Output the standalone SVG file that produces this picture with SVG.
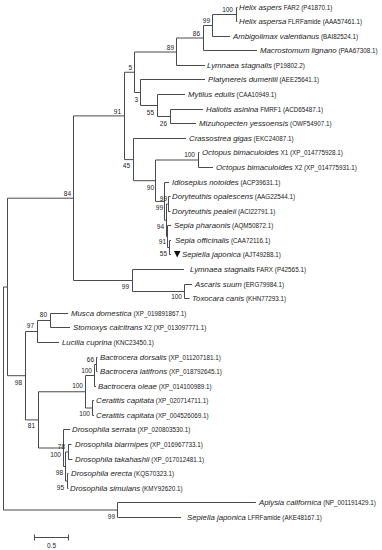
<svg xmlns="http://www.w3.org/2000/svg" width="382" height="550" viewBox="0 0 382 550">
<style>
.br{fill:none;stroke:#4a4a4a;stroke-width:1}
text{font-family:"Liberation Sans",Arial,sans-serif;fill:#222}
.sp{font-style:italic;font-size:7.8px}
.ac{font-size:6.3px;font-style:normal}
.bs{font-size:6.5px;text-anchor:end}
</style>
<rect width="382" height="550" fill="#fff"/>
<g id="connectors" class="br">
<path d="M3.5 287V510M3.5 287H7.5M7.5 198.2V375.7M7.5 198.2H73.5M73.5 115.9V280.5M73.5 115.9H124.5M124.5 72.25V159.6M124.5 72.25H134.5M134.5 52V92.5M134.5 52H176.5M176.5 38V65.5M176.5 38H203.5M203.5 25.5V50.5M203.5 25.5H212.5M212.5 14.5V36.5M212.5 14.5H236.5M236.5 7.5V21.5M236.5 7.5H237.5M236.5 21.5H237.5M212.5 36.5H230M203.5 50.5H257M176.5 65.5H205"/>
<path d="M134.5 92.5H140.5M140.5 79.5V105.5M140.5 79.5H205M140.5 105.5H157.5M157.5 94.5V116.5M157.5 94.5H185M157.5 116.5H170.5M170.5 109.5V123.5M170.5 109.5H203M170.5 123.5H196"/>
<path d="M124.5 159.6H133.5M133.5 138.5V180.7M133.5 138.5H186M133.5 180.7H155.5M155.5 160V201.4M155.5 160H198.5M198.5 152.5V167.5M198.5 152.5H199.5M198.5 167.5H213M155.5 201.4H164.5M164.5 182.5V220.25M164.5 182.5H169M164.5 220.25H166.5M166.5 204V236.5M166.5 204H168.5M168.5 196.5V211.5M168.5 196.5H170.5M168.5 211.5H170.5M166.5 236.5H167.5M167.5 225.5V247.5M167.5 225.5H171M167.5 247.5H169.5M169.5 240.5V254.5M169.5 240.5H171M169.5 254.5H171"/>
<path d="M73.5 280.5H132.5M132.5 269.5V291.5M132.5 269.5H184M132.5 291.5H184.5M184.5 284.5V298.5M184.5 284.5H192M184.5 298.5H189.5"/>
<path d="M7.5 375.7H25.5M25.5 331.5V419.9M25.5 331.5H37.5M37.5 320.5V342.5M37.5 320.5H50.5M50.5 313.5V327.5M50.5 313.5H68M50.5 327.5H70M37.5 342.5H59"/>
<path d="M25.5 419.9H38.5M38.5 391.75V448M38.5 391.75H85.5M85.5 375.5V408M85.5 375.5H94.5M94.5 364.5V386.5M94.5 364.5H96.5M96.5 357.5V371.5M96.5 357.5H97.5M96.5 371.5H97.5M94.5 386.5H96M85.5 408H92.5M92.5 400.5V415.5M92.5 400.5H94M92.5 415.5H94"/>
<path d="M38.5 448H63.5M63.5 429.5V466.5M63.5 429.5H70M63.5 466.5H65.5M65.5 452V481M65.5 452H68.5M68.5 444.5V459.5M68.5 444.5H71.5M68.5 459.5H72.5M65.5 481H67.5M67.5 473.5V488.5M67.5 473.5H68.5M67.5 488.5H68.5"/>
<path d="M3.5 510H117.5M117.5 502.5V517.5M117.5 502.5H256M117.5 517.5H181"/>
</g>
<g id="scale-bar">
<path class="br" d="M34 537.5H69M34.5 534.5V540.5M68.5 534.5V540.5"/>
<text x="51.5" y="548" font-size="6.5" text-anchor="middle">0.5</text>
</g>
<g id="leaf-01"><text x="239" y="10.3"><tspan class="sp">Helix aspers</tspan><tspan class="ac"> FAR2 (P41870.1)</tspan></text></g>
<g id="leaf-02"><text x="239" y="24.3"><tspan class="sp">Helix aspersa</tspan><tspan class="ac"> FLRFamide (AAA57461.1)</tspan></text></g>
<g id="leaf-03"><text x="233" y="39.3"><tspan class="sp">Ambigolimax valentianus</tspan><tspan class="ac"> (BAI82524.1)</tspan></text></g>
<g id="leaf-04"><text x="260" y="53.3"><tspan class="sp">Macrostomum lignano</tspan><tspan class="ac"> (PAA67308.1)</tspan></text></g>
<g id="leaf-05"><text x="207" y="68.3"><tspan class="sp">Lymnaea stagnalis</tspan><tspan class="ac"> (P19802.2)</tspan></text></g>
<g id="leaf-06"><text x="208" y="82.3"><tspan class="sp">Platynereis dumerilii</tspan><tspan class="ac"> (AEE25641.1)</tspan></text></g>
<g id="leaf-07"><text x="188" y="97.3"><tspan class="sp">Mytilus edulis</tspan><tspan class="ac"> (CAA10949.1)</tspan></text></g>
<g id="leaf-08"><text x="206" y="112.3"><tspan class="sp">Haliotis asinina</tspan><tspan class="ac"> FMRF1 (ACD65487.1)</tspan></text></g>
<g id="leaf-09"><text x="199" y="126.3"><tspan class="sp">Mizuhopecten yessoensis</tspan><tspan class="ac"> (OWF54907.1)</tspan></text></g>
<g id="leaf-10"><text x="189" y="141.3"><tspan class="sp">Crassostrea gigas</tspan><tspan class="ac"> (EKC24087.1)</tspan></text></g>
<g id="leaf-11"><text x="202" y="155.3"><tspan class="sp">Octopus bimaculoides</tspan><tspan class="ac"> X1 (XP_014775928.1)</tspan></text></g>
<g id="leaf-12"><text x="216" y="170.3"><tspan class="sp">Octopus bimaculoides</tspan><tspan class="ac"> X2 (XP_014775931.1)</tspan></text></g>
<g id="leaf-13"><text x="172" y="185.3"><tspan class="sp">Idiosepius notoides</tspan><tspan class="ac"> (ACP39631.1)</tspan></text></g>
<g id="leaf-14"><text x="172" y="199.3"><tspan class="sp">Doryteuthis opalescens</tspan><tspan class="ac"> (AAG22544.1)</tspan></text></g>
<g id="leaf-15"><text x="172" y="214.3"><tspan class="sp">Doryteuthis pealeii</tspan><tspan class="ac"> (ACI22791.1)</tspan></text></g>
<g id="leaf-16"><text x="174" y="228.3"><tspan class="sp">Sepia pharaonis</tspan><tspan class="ac"> (AQM50872.1)</tspan></text></g>
<g id="leaf-17"><text x="175" y="243.3"><tspan class="sp">Sepia officinalis</tspan><tspan class="ac"> (CAA72116.1)</tspan></text></g>
<g id="leaf-18"><path d="M174 251H180.5L177.2 257.5Z" fill="#111"/><text x="182" y="257.3"><tspan class="sp">Sepiella japonica</tspan><tspan class="ac"> (AJT49288.1)</tspan></text></g>
<g id="leaf-19"><text x="190" y="272.3"><tspan class="sp">Lymnaea stagnalis</tspan><tspan class="ac"> FARX (P42565.1)</tspan></text></g>
<g id="leaf-20"><text x="195" y="287.3"><tspan class="sp">Ascaris suum</tspan><tspan class="ac"> (ERG79984.1)</tspan></text></g>
<g id="leaf-21"><text x="192" y="301.3"><tspan class="sp">Toxocara canis</tspan><tspan class="ac"> (KHN77293.1)</tspan></text></g>
<g id="leaf-22"><text x="71" y="316.3"><tspan class="sp">Musca domestica</tspan><tspan class="ac"> (XP_019891867.1)</tspan></text></g>
<g id="leaf-23"><text x="73" y="330.3"><tspan class="sp">Stomoxys calcitrans</tspan><tspan class="ac"> X2 (XP_013097771.1)</tspan></text></g>
<g id="leaf-24"><text x="62" y="345.3"><tspan class="sp">Lucilia cuprina</tspan><tspan class="ac"> (KNC23450.1)</tspan></text></g>
<g id="leaf-25"><text x="100" y="360.3"><tspan class="sp">Bactrocera dorsalis</tspan><tspan class="ac"> (XP_011207181.1)</tspan></text></g>
<g id="leaf-26"><text x="100" y="374.3"><tspan class="sp">Bactrocera latifrons</tspan><tspan class="ac"> (XP_018792645.1)</tspan></text></g>
<g id="leaf-27"><text x="98" y="389.3"><tspan class="sp">Bactrocera oleae</tspan><tspan class="ac"> (XP_014100989.1)</tspan></text></g>
<g id="leaf-28"><text x="96" y="403.3"><tspan class="sp">Ceratitis capitata</tspan><tspan class="ac"> (XP_020714711.1)</tspan></text></g>
<g id="leaf-29"><text x="96" y="418.3"><tspan class="sp">Ceratitis capitata</tspan><tspan class="ac"> (XP_004526069.1)</tspan></text></g>
<g id="leaf-30"><text x="72" y="432.3"><tspan class="sp">Drosophila serrata</tspan><tspan class="ac"> (XP_020803530.1)</tspan></text></g>
<g id="leaf-31"><text x="75" y="447.3"><tspan class="sp">Drosophila biarmipes</tspan><tspan class="ac"> (XP_016967733.1)</tspan></text></g>
<g id="leaf-32"><text x="75" y="462.3"><tspan class="sp">Drosophila takahashii</tspan><tspan class="ac"> (XP_017012481.1)</tspan></text></g>
<g id="leaf-33"><text x="71" y="476.3"><tspan class="sp">Drosophila erecta</tspan><tspan class="ac"> (KQS70323.1)</tspan></text></g>
<g id="leaf-34"><text x="70" y="491.3"><tspan class="sp">Drosophila simulans</tspan><tspan class="ac"> (KMY92620.1)</tspan></text></g>
<g id="leaf-35"><text x="259" y="505.3"><tspan class="sp">Aplysia californica</tspan><tspan class="ac"> (NP_001191429.1)</tspan></text></g>
<g id="leaf-36"><text x="187" y="520.3"><tspan class="sp">Sepiella japonica</tspan><tspan class="ac"> LFRFamide (AKE48167.1)</tspan></text></g>
<g id="node-helix"><text class="bs" x="233" y="12.3">100</text></g>
<g id="node-99a"><text class="bs" x="210" y="23">99</text></g>
<g id="node-86"><text class="bs" x="200" y="35.5">86</text></g>
<g id="node-89"><text class="bs" x="174" y="49.5">89</text></g>
<g id="node-5"><text class="bs" x="132" y="69.5">5</text></g>
<g id="node-3"><text class="bs" x="138" y="101.5">3</text></g>
<g id="node-55a"><text class="bs" x="154" y="114.5">55</text></g>
<g id="node-26"><text class="bs" x="167" y="125.5">26</text></g>
<g id="node-91a"><text class="bs" x="121" y="113.5">91</text></g>
<g id="node-45"><text class="bs" x="130" y="167.5">45</text></g>
<g id="node-octopus"><text class="bs" x="195" y="156.5">100</text></g>
<g id="node-90"><text class="bs" x="154" y="189.5">90</text></g>
<g id="node-doryteuthis"><text class="bs" x="167" y="200.5">99</text></g>
<g id="node-decapod"><text class="bs" x="163" y="209.5">99</text></g>
<g id="node-94"><text class="bs" x="164" y="228.5">94</text></g>
<g id="node-91b"><text class="bs" x="166" y="243.5">91</text></g>
<g id="node-55b"><text class="bs" x="167" y="256">55</text></g>
<g id="node-84"><text class="bs" x="71" y="195.5">84</text></g>
<g id="node-99farx"><text class="bs" x="129" y="288.5">99</text></g>
<g id="node-nematode"><text class="bs" x="182" y="298.5">100</text></g>
<g id="node-80"><text class="bs" x="47" y="316.5">80</text></g>
<g id="node-97"><text class="bs" x="34" y="327.5">97</text></g>
<g id="node-66"><text class="bs" x="94" y="361.5">66</text></g>
<g id="node-bactrocera"><text class="bs" x="92" y="372.5">100</text></g>
<g id="node-tephritid"><text class="bs" x="83" y="387.5">100</text></g>
<g id="node-ceratitis"><text class="bs" x="90" y="415.5">100</text></g>
<g id="node-98a"><text class="bs" x="22" y="384.5">98</text></g>
<g id="node-81"><text class="bs" x="35" y="427.5">81</text></g>
<g id="node-78"><text class="bs" x="65" y="448.5">78</text></g>
<g id="node-drosophila"><text class="bs" x="61" y="457">100</text></g>
<g id="node-98b"><text class="bs" x="63" y="474.5">98</text></g>
<g id="node-95"><text class="bs" x="64" y="489.5">95</text></g>
<g id="node-outgroup"><text class="bs" x="115" y="518.5">99</text></g>
</svg>
